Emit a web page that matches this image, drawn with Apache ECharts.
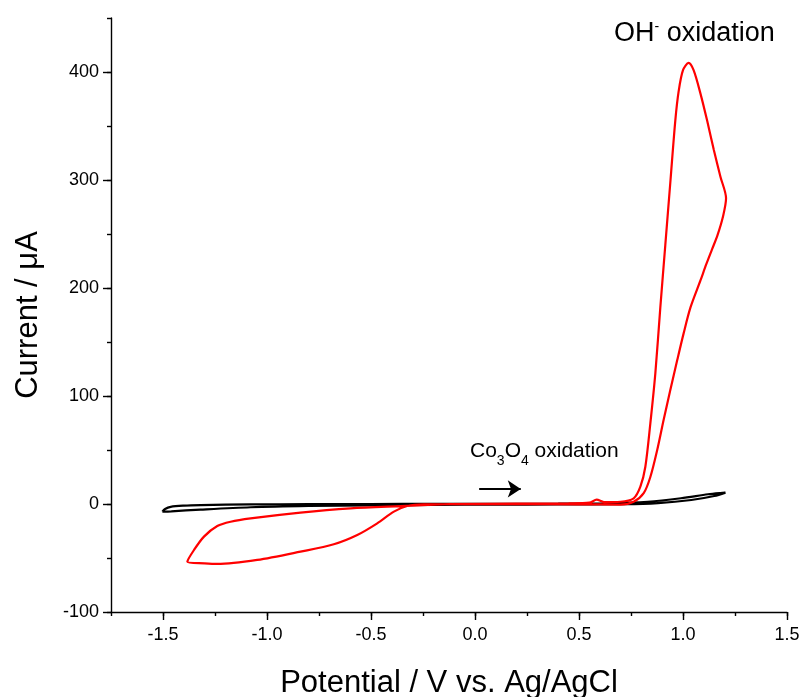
<!DOCTYPE html>
<html>
<head>
<meta charset="utf-8">
<title>Cyclic voltammetry</title>
<script src="https://cdn.jsdelivr.net/npm/echarts@6/dist/echarts.min.js"></script>
<style>
  html, body { margin: 0; padding: 0; background: #fff; }
  #chart { width: 804px; height: 697px; }
</style>
</head>
<body>
<div id="chart"></div>
<script>
// Axis tick labels
const xTickLabels = [-1.5, -1.0, -0.5, 0.0, 0.5, 1.0, 1.5];
const yTickLabels = [-100, 0, 100, 200, 300, 400];

// Blank scan (black loop): potential (V) and current (µA)
const blackV = [-1.503, -1.49, -1.463, -1.40, -1.319, -1.079, -0.8, -0.5, -0.2, 0.1, 0.4, 0.635, 0.83, 0.99, 1.12, 1.18, 1.204,
                1.15, 1.04, 0.88, 0.72, 0.4, 0.1, -0.2, -0.5, -0.8, -1.079, -1.32, -1.46, -1.503];
const blackI = [-7.1, -4.6, -2.6, -1.5, -1.0, -0.4, -0.1, 0.0, 0.1, 0.2, 0.3, 0.7, 2.1, 5.3, 9.0, 10.2, 10.5,
                7.4, 3.7, 0.8, -0.2, -0.4, -0.6, -0.8, -1.2, -1.8, -3.0, -5.2, -6.8, -7.1];

// Co3O4 electrode scan (red loop)
const redV = [-0.118, 0.2, 0.45, 0.55, 0.585, 0.62, 0.699, 0.763, 0.795, 0.819, 0.843, 0.867, 0.891, 0.915, 0.940, 0.963, 0.979,
              1.000, 1.027, 1.051, 1.084, 1.116, 1.148, 1.180, 1.207,
              1.192, 1.166, 1.140, 1.112, 1.084, 1.036, 1.003, 0.972, 0.939, 0.907, 0.876, 0.843, 0.811, 0.763, 0.699,
              0.5, 0.2, -0.118, -0.246, -0.326, -0.390, -0.470, -0.566, -0.679, -0.839, -1.047, -1.239, -1.30, -1.383,
              -1.351, -1.303, -1.239, -1.175, -1.079, -0.839, -0.598, -0.358, -0.118];
const redI = [0.0, 0.3, 0.6, 1.2, 4.0, 1.8, 2.1, 5.3, 16, 34.5, 74.7, 121, 182, 240, 300, 355, 382,
              401.7, 408.5, 401.7, 380, 355, 328, 303, 283,
              266, 249, 236, 222, 207, 182, 158, 133, 105.5, 78, 50, 25, 10, 2.1, -0.5,
              -0.3, -0.1, -0.2, -0.3, -1.9, -7.1, -17.9, -28.7, -37.3, -44.1, -51.8, -55.5, -54.9, -53.4,
              -42.6, -30.2, -20.4, -16.4, -13.3, -7.9, -4.0, -1.9, 0.0];

// Direction arrow under the Co3O4 label
const arrowFrom = [0.02, 14];
const arrowTo = [0.22, 14];

const zip = (a, b) => a.map((v, i) => [v, b[i]]);
const FONT = 'Arial, "Liberation Sans", sans-serif';
const axisLineStyle = { color: '#000', width: 1.4 };

const chart = echarts.init(document.getElementById('chart'), null, { renderer: 'canvas' });

chart.setOption({
  animation: false,
  backgroundColor: '#fff',
  textStyle: { fontFamily: FONT, color: '#000' },
  grid: { left: 111, right: 17, top: 18, bottom: 85, containLabel: false, outerBoundsMode: 'none' },
  xAxis: [
    {
      type: 'value', min: -1.75, max: 1.5,
      name: 'Potential / V vs. Ag/AgCl', nameLocation: 'middle', nameGap: 56,
      nameTextStyle: { fontSize: 31, color: '#000', fontFamily: FONT },
      axisLine: { show: true, onZero: false, lineStyle: axisLineStyle },
      axisTick: { show: true, customValues: xTickLabels, length: 8, lineStyle: axisLineStyle },
      axisLabel: { customValues: xTickLabels, formatter: v => Number(v).toFixed(1),
                   fontSize: 18, color: '#000', margin: 14, fontFamily: FONT },
      splitLine: { show: false }
    },
    {
      type: 'value', min: -1.75, max: 1.5, interval: 0.25, position: 'bottom',
      axisLine: { show: false, onZero: false },
      axisTick: { show: true, length: 4, lineStyle: axisLineStyle },
      axisLabel: { show: false },
      splitLine: { show: false }
    }
  ],
  yAxis: [
    {
      type: 'value', min: -100, max: 450,
      name: 'Current / \u03bcA', nameLocation: 'middle', nameGap: 67, nameRotate: 90,
      nameTextStyle: { fontSize: 31, color: '#000', fontFamily: FONT },
      axisLine: { show: true, onZero: false, lineStyle: axisLineStyle },
      axisTick: { show: true, customValues: yTickLabels, length: 8, lineStyle: axisLineStyle },
      axisLabel: { customValues: yTickLabels, fontSize: 18, color: '#000', margin: 12, fontFamily: FONT },
      splitLine: { show: false }
    },
    {
      type: 'value', min: -100, max: 450, interval: 50, position: 'left',
      axisLine: { show: false, onZero: false },
      axisTick: { show: true, length: 4, lineStyle: axisLineStyle },
      axisLabel: { show: false },
      splitLine: { show: false }
    }
  ],
  series: [
    {
      name: 'blank', type: 'line', xAxisIndex: 0, yAxisIndex: 0,
      data: zip(blackV, blackI), showSymbol: false, smooth: 0.3,
      lineStyle: { color: '#000', width: 2.2 }, z: 2
    },
    {
      name: 'Co3O4', type: 'line', xAxisIndex: 0, yAxisIndex: 0,
      data: zip(redV, redI), showSymbol: false, smooth: 0.3,
      lineStyle: { color: '#ff0000', width: 2.2 }, z: 3
    },
    {
      name: 'arrow', type: 'line', xAxisIndex: 0, yAxisIndex: 0, data: [],
      markLine: {
        silent: true, symbol: ['none', 'arrow'], symbolSize: 13,
        label: { show: false },
        lineStyle: { color: '#000', width: 2, type: 'solid' },
        data: [[{ coord: arrowFrom }, { coord: arrowTo }]]
      }
    }
  ],
  graphic: [
    {
      type: 'text', left: 614, top: 20,
      style: {
        text: '{b|OH}{s|-}{b| oxidation}',
        rich: {
          b: { fontSize: 27, fontFamily: FONT, fill: '#000', verticalAlign: 'bottom' },
          s: { fontSize: 14, fontFamily: FONT, fill: '#000', verticalAlign: 'top' }
        }
      }
    },
    {
      type: 'text', left: 470, top: 441,
      style: {
        text: '{b|Co}{d|3}{b|O}{d|4}{b| oxidation}',
        rich: {
          b: { fontSize: 21, fontFamily: FONT, fill: '#000', verticalAlign: 'top', padding: [0, 0, 6, 0] },
          d: { fontSize: 14, fontFamily: FONT, fill: '#000', verticalAlign: 'bottom' }
        }
      }
    }
  ]
});
</script>
</body>
</html>
